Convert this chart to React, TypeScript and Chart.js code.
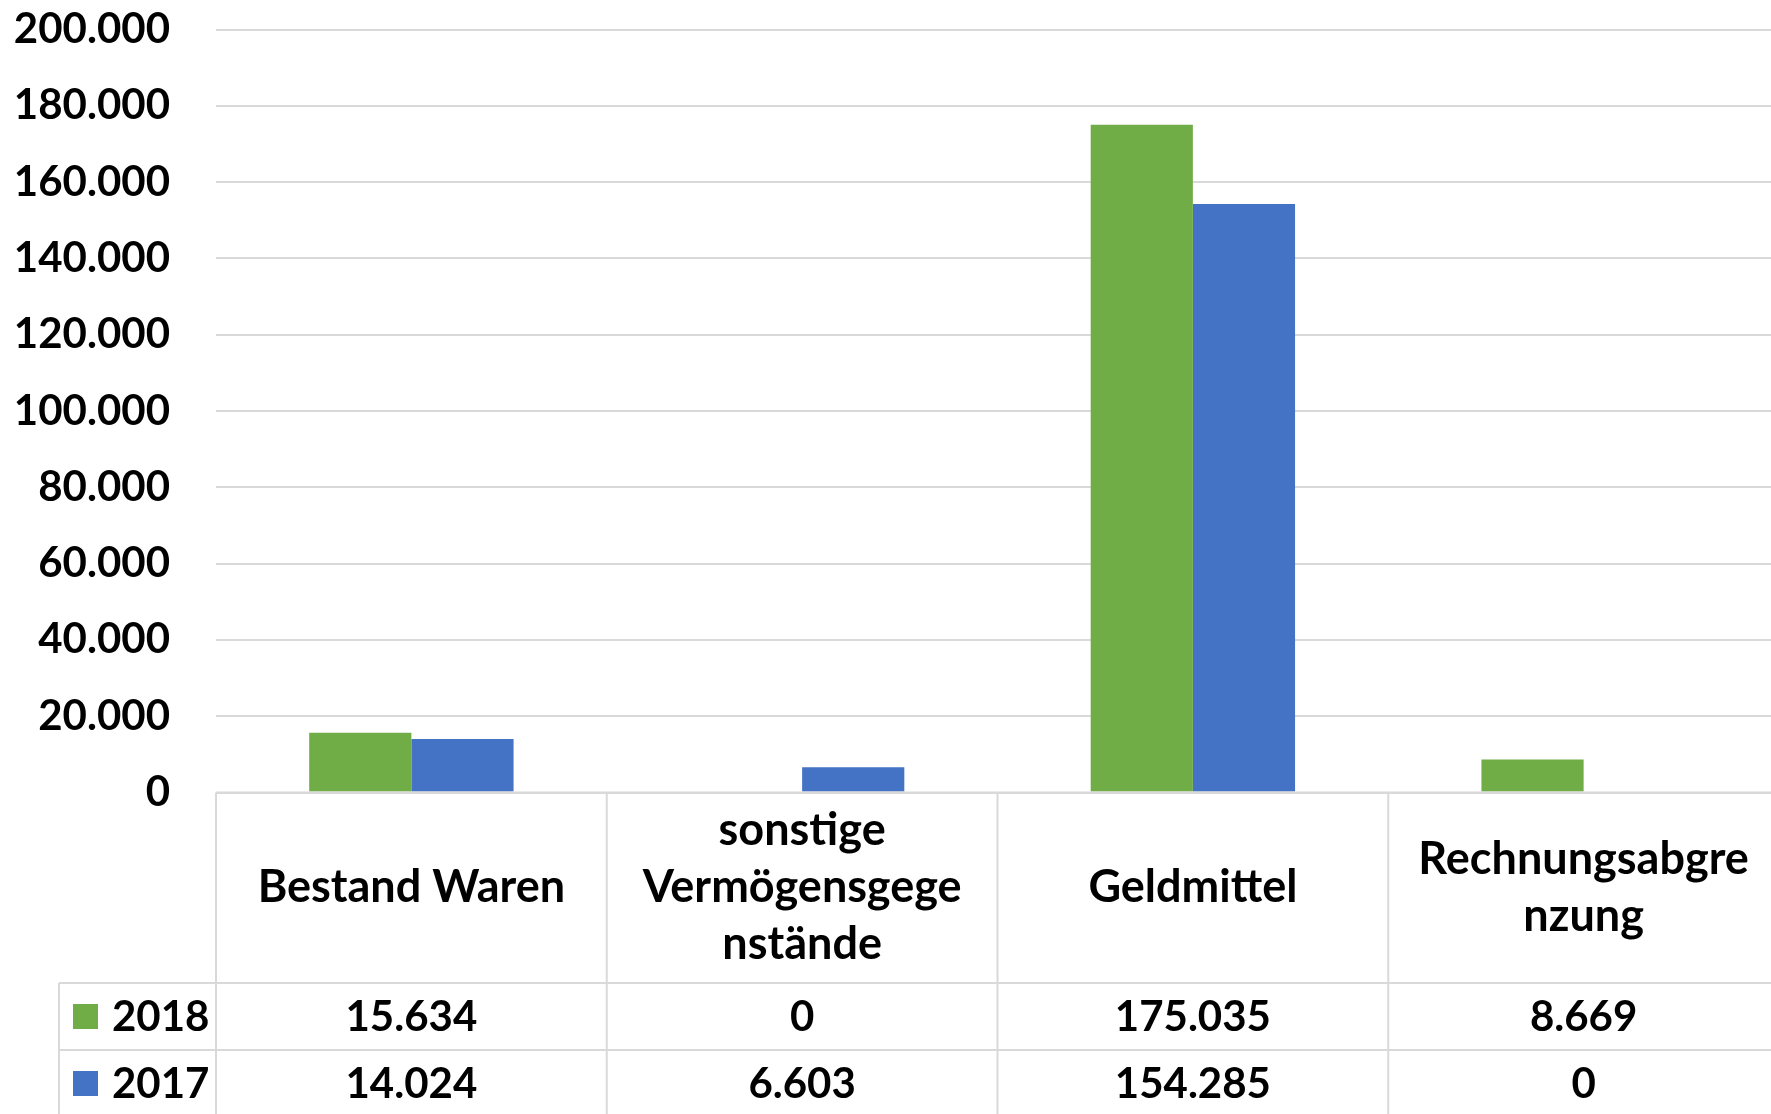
import React, { useEffect, useRef } from "react";
import { Chart, registerables } from "chart.js";

Chart.register(...registerables);

const categories = ["Bestand Waren", "sonstige Vermögensgegenstände", "Geldmittel", "Rechnungsabgrenzung"];
const categoryLines = [["Bestand Waren"], ["sonstige", "Vermögensgege", "nstände"], ["Geldmittel"], ["Rechnungsabgre", "nzung"]];
const seriesNames = ["2018", "2017"];
const values2018 = [15634, 0, 175035, 8669];
const values2017 = [14024, 6603, 154285, 0];
const seriesColors = ["#70AD47", "#4472C4"];
const yMax = 200000;
const yStep = 20000;

const FONT_FAMILY = "Lato, 'Open Sans', sans-serif";
const NUM_SIZE = 42;
const TEXT_SIZE = 45;
const GRID = "#D9D9D9";

const fmt = (n: number) => String(Math.round(n)).replace(/\B(?=(\d{3})+(?!\d))/g, ".");

const tablePlugin = {
  id: "dataTable",
  afterDraw(chart: any) {
    const { ctx, chartArea, scales } = chart;
    const xs = scales.x;
    const n = categories.length;
    const left = chartArea.left;
    const right = chartArea.right;
    const colW = (right - left) / n;
    const top0 = chartArea.bottom;
    const headerBottom = top0 + 190.5;
    const row1Bottom = headerBottom + 67;
    const row2Bottom = row1Bottom + 67;
    const legendLeft = 59;
    const rows = [values2018, values2017];
    const rowTops = [headerBottom, row1Bottom];
    const rowBottoms = [row1Bottom, row2Bottom];

    ctx.save();
    ctx.strokeStyle = GRID;
    ctx.lineWidth = 2;
    ctx.beginPath();
    ctx.moveTo(left, top0);
    ctx.lineTo(right, top0);
    ctx.moveTo(legendLeft, headerBottom);
    ctx.lineTo(right, headerBottom);
    ctx.moveTo(legendLeft, row1Bottom);
    ctx.lineTo(right, row1Bottom);
    for (let i = 0; i <= n; i++) {
      const xp = left + i * colW;
      ctx.moveTo(xp, top0);
      ctx.lineTo(xp, row2Bottom);
    }
    ctx.moveTo(legendLeft, headerBottom);
    ctx.lineTo(legendLeft, row2Bottom);
    ctx.stroke();

    ctx.fillStyle = "#000";
    ctx.textAlign = "center";
    ctx.textBaseline = "middle";
    const headerMid = (top0 + headerBottom) / 2;
    const lineH = 57;
    for (let i = 0; i < n; i++) {
      const cx = xs.getPixelForValue(i);
      const lines = categoryLines[i];
      const start = headerMid - ((lines.length - 1) * lineH) / 2;
      ctx.font = `bold ${TEXT_SIZE}px ${FONT_FAMILY}`;
      lines.forEach((ln, k) => ctx.fillText(ln, cx, start + k * lineH));
      ctx.font = `bold ${NUM_SIZE}px ${FONT_FAMILY}`;
      rows.forEach((vals, r) => {
        ctx.fillText(fmt(vals[i]), cx, (rowTops[r] + rowBottoms[r]) / 2 + 1);
      });
    }
    ctx.font = `bold ${NUM_SIZE}px ${FONT_FAMILY}`;
    rows.forEach((_, r) => {
      const mid = (rowTops[r] + rowBottoms[r]) / 2;
      ctx.fillStyle = seriesColors[r];
      ctx.fillRect(73, mid - 12.5, 25, 25);
      ctx.fillStyle = "#000";
      ctx.textAlign = "left";
      ctx.fillText(seriesNames[r], 112, mid + 1);
    });
    ctx.restore();
  },
};

export default function App() {
  const ref = useRef<HTMLCanvasElement | null>(null);
  useEffect(() => {
    document.body.style.margin = "0";
    const canvas = ref.current!;
    const chart = new Chart(canvas, {
      type: "bar",
      data: {
        labels: categories,
        datasets: [
          { label: seriesNames[0], data: values2018, backgroundColor: seriesColors[0], borderWidth: 0 },
          { label: seriesNames[1], data: values2017, backgroundColor: seriesColors[1], borderWidth: 0 },
        ],
      },
      options: {
        responsive: false,
        animation: false,
        devicePixelRatio: 1,
        layout: { padding: { top: 29.5, bottom: 321.5, left: 0, right: 0 } },
        datasets: { bar: { barPercentage: 1, categoryPercentage: 0.523 } },
        plugins: { legend: { display: false }, tooltip: { enabled: false }, title: { display: false } },
        scales: {
          x: { display: false, grid: { display: false } },
          y: {
            min: 0,
            max: yMax,
            border: { display: false },
            grid: { color: GRID, lineWidth: 2, drawTicks: false },
            ticks: {
              stepSize: yStep,
              padding: 46,
              color: "#000",
              font: { family: FONT_FAMILY, size: NUM_SIZE, weight: "bold" },
              callback: (v: any) => fmt(Number(v)),
            },
            afterFit: (scale: any) => {
              scale.width = 216;
              scale.paddingTop = 0;
              scale.paddingBottom = 0;
            },
          },
        },
      },
      plugins: [tablePlugin],
    } as any);
    return () => chart.destroy();
  }, []);
  return (
    <div style={{ position: "fixed", left: 0, top: 0, width: 1771, height: 1114, overflow: "hidden", background: "#fff" }}>
      <canvas ref={ref} width={1779} height={1114} style={{ width: 1779, height: 1114, display: "block" }} />
    </div>
  );
}
